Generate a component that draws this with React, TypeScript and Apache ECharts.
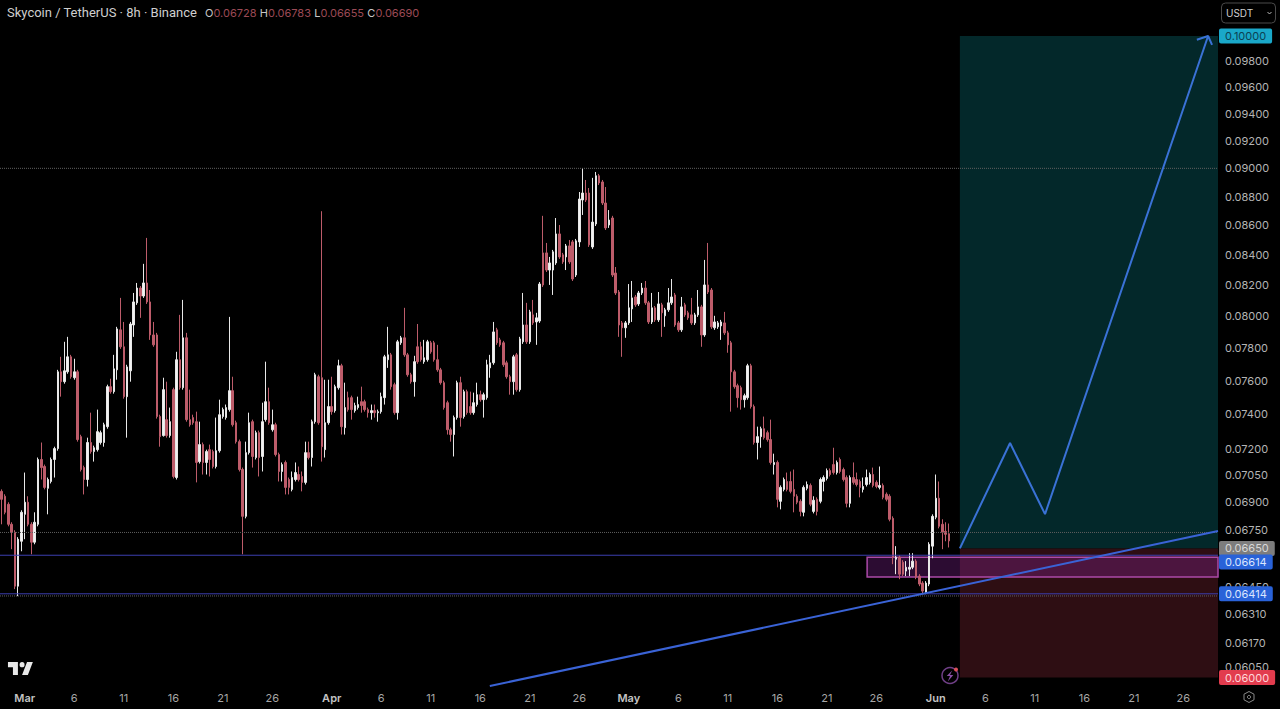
import React, { useEffect, useRef } from "react";
import * as echarts from "echarts";

// Candles, in units of 0.00001 USDT: [open, close, low, high]
const candles: number[][] = [
  [6959,6915,6779,6970],[6932,6844,6833,6943],[6888,6779,6768,6899],[6779,6736,6646,6790],[6736,6453,6438,6747],[6453,6699,6402,6710],[6688,6844,6635,6855],[6833,6899,6699,7064],[6899,6779,6768,6932],[6779,6683,6619,6790],
  [6683,6790,6672,6844],[6779,7138,6768,7149],[7138,7092,7025,7235],[7098,6981,6970,7109],[6976,7025,6833,7036],[7014,7138,7003,7149],[7138,7200,7036,7211],[7200,7654,7188,7666],[7654,7594,7504,7746],[7594,7660,7582,7839],
  [7654,7746,7642,7870],[7746,7624,7612,7758],[7618,7654,7606,7734],[7654,7252,7240,7666],[7269,7081,7070,7280],[7092,7025,6942,7103],[7025,7235,6986,7263],[7235,7183,7171,7409],[7183,7205,7126,7217],[7194,7298,7183,7427],
  [7235,7292,7223,7304],[7235,7338,7211,7350],[7327,7564,7315,7576],[7564,7534,7522,7612],[7534,7672,7522,7758],[7666,7920,7606,7933],[7914,7808,7795,8118],[7808,7504,7492,7964],[7504,7684,7263,7697],[7660,7951,7594,7964],
  [7945,8092,7870,8150],[8086,8182,8073,8215],[8182,8130,7990,8195],[8130,8215,8118,8341],[8215,8092,8079,8515],[8092,7882,7851,8169],[7882,7820,7808,7964],[7882,7386,7374,7895],[7386,7269,7211,7397],[7275,7546,7269,7618],
  [7368,7275,7263,7594],[7275,7356,7263,7439],[7546,7042,7031,7558],[7036,7728,7025,7777],[7728,7558,7546,8009],[7558,7864,7546,8105],[7864,7368,7356,7895],[7368,7338,7327,7546],[7380,7350,7338,7397],[7356,7121,7009,7415],
  [7126,7223,7115,7356],[7223,7121,7053,7235],[7121,7183,7053,7194],[7194,7138,7042,7223],[7183,7098,7087,7194],[7098,7188,7087,7380],[7188,7397,7177,7486],[7386,7427,7374,7439],[7380,7439,7368,7457],[7427,7540,7415,7996],
  [7540,7338,7327,7624],[7350,7240,7229,7362],[7240,7081,7070,7252],[7081,6822,6619,7092],[6822,7177,6811,7240],[7177,7350,7166,7409],[7356,7155,7092,7368],[7149,7292,7138,7304],[7292,7149,7042,7304],[7155,7356,7070,7468],
  [7368,7474,7356,7716],[7474,7350,7338,7558],[7309,7338,7298,7427],[7338,7166,7155,7350],[7166,7070,7014,7177],[7070,7109,7014,7121],[7121,6981,6942,7132],[7025,6981,6942,7036],[6970,7036,6959,7070],[7025,7064,7014,7121],
  [7053,7025,7014,7098],[7042,7009,6959,7070],[7009,7177,6997,7240],[7177,7149,7138,7240],[7149,7356,7098,7368],[7356,7636,7344,7648],[7624,7350,7338,7636],[7618,7211,7126,8698],[7194,7350,7149,7606],[7350,7445,7338,7606],
  [7445,7415,7397,7624],[7421,7564,7409,7576],[7558,7691,7546,7728],[7691,7327,7281,7703],[7321,7439,7281,7588],[7498,7427,7415,7534],[7498,7427,7368,7510],[7421,7451,7409,7468],[7439,7457,7427,7504],[7474,7451,7409,7564],
  [7474,7427,7415,7486],[7427,7409,7380,7439],[7409,7421,7368,7457],[7421,7409,7380,7457],[7409,7415,7356,7427],[7415,7504,7403,7528],[7498,7746,7457,7758],[7728,7758,7678,7933],[7758,7564,7546,7770],[7576,7409,7397,7588],
  [7409,7839,7368,7851],[7833,7864,7820,7876],[7864,7758,7746,8054],[7758,7636,7624,7770],[7636,7594,7582,7648],[7594,7716,7504,7752],[7808,7716,7703,7951],[7808,7728,7716,7839],[7716,7740,7703,7851],[7728,7839,7716,7851],
  [7833,7777,7765,7845],[7833,7728,7716,7845],[7728,7666,7654,7820],[7666,7588,7576,7678],[7588,7439,7427,7600],[7468,7309,7281,7480],[7309,7281,7240,7321],[7281,7380,7155,7392],[7380,7588,7368,7600],[7588,7380,7327,7624],
  [7386,7534,7374,7546],[7534,7409,7397,7546],[7445,7409,7397,7534],[7409,7468,7397,7528],[7457,7516,7445,7588],[7516,7486,7474,7540],[7486,7516,7380,7528],[7498,7697,7486,7728],[7678,7709,7618,7758],[7709,7901,7697,7964],
  [7914,7833,7820,7927],[7851,7820,7808,7864],[7833,7697,7684,7845],[7709,7624,7612,7722],[7624,7594,7516,7636],[7594,7746,7516,7758],[7758,7546,7534,7770],[7546,7857,7534,7870],[7839,7945,7826,8150],[7945,7839,7826,8086],
  [7839,8028,7826,8041],[8009,7958,7945,8105],[7964,7990,7820,8022],[7970,8208,7958,8221],[8414,8202,8189,8666],[8414,8300,8287,8481],[8300,8347,8202,8387],[8300,8421,8137,8434],[8347,8542,8334,8651],[8542,8387,8374,8603],
  [8401,8354,8341,8414],[8387,8461,8300,8474],[8461,8354,8341,8501],[8488,8241,8228,8501],[8267,8495,8254,8508],[8488,8783,8454,8832],[8776,8825,8672,9002],[8825,8776,8762,8917],[8825,8468,8454,8860],[8454,8623,8441,8932],
  [8610,8947,8596,8974],[8947,8896,8881,8960],[8903,8755,8741,8917],[8755,8583,8569,8867],[8603,8637,8583,8706],[8651,8267,8254,8666],[8280,8150,8137,8320],[8156,7945,7870,8169],[7958,7927,7746,7970],[7927,7958,7864,7970],
  [7958,8054,7945,8208],[8047,8118,7964,8228],[8124,8073,8060,8137],[8079,8150,8066,8163],[8150,8182,8137,8215],[8182,8086,8073,8228],[8086,7964,7951,8098],[7964,8054,7951,8150],[8054,7977,7964,8066],[7977,8079,7964,8156],
  [8073,8022,7870,8086],[8003,8041,7933,8054],[8041,8086,8028,8182],[8086,8124,8073,8241],[8137,7945,7933,8150],[7958,7914,7901,7970],[7914,8060,7901,8124],[8073,8009,7996,8086],[8022,7990,7977,8035],[8009,7958,7945,8118],
  [7958,8009,7945,8022],[8009,8060,7996,8169],[8060,7882,7808,8073],[7882,8202,7870,8367],[8202,8156,8143,8481],[8169,7933,7920,8182],[7927,7964,7914,8003],[7933,7958,7920,7970],[7939,7964,7851,7977],[7958,7895,7882,8028],
  [7895,7820,7771,7908],[7833,7654,7415,7845],[7654,7564,7552,7666],[7570,7498,7439,7582],[7558,7486,7427,7570],[7486,7510,7439,7522],[7498,7691,7486,7703],[7691,7445,7433,7703],[7445,7235,7223,7457],[7235,7269,7138,7327],
  [7269,7315,7205,7327],[7315,7263,7252,7386],[7292,7252,7240,7304],[7252,7121,7109,7368],[7109,7121,7053,7171],[7121,6915,6871,7132],[6904,6981,6860,6992],[6970,7025,6959,7036],[7014,6970,6959,7064],[7014,6959,6948,7070],
  [6970,6932,6844,7081],[6932,6899,6888,6943],[6904,6849,6822,6915],[6844,6981,6822,6992],[6976,6997,6965,7014],[6992,6888,6877,7003],[6849,6910,6838,6932],[6915,6849,6827,6926],[6904,7025,6893,7036],[7014,7036,6959,7048],
  [7031,7075,7020,7087],[7075,7053,7042,7087],[7109,7064,7053,7205],[7064,7121,7053,7132],[7138,7070,7059,7149],[7081,7025,7014,7092],[7036,6893,6871,7048],[6893,7036,6871,7048],[7036,7009,6997,7121],[7025,6997,6986,7064],
  [7014,6981,6926,7025],[6970,6986,6953,7036],[6997,7036,6986,7081],[7009,7053,6997,7064],[7053,6992,6981,7092],[7009,6986,6976,7020],[6981,6992,6970,7098],[6992,6926,6915,7003],[6943,6915,6904,6953],[6932,6806,6795,6943],
  [6811,6604,6567,6822],[6593,6604,6515,6662],[6604,6515,6489,6614],[6577,6515,6505,6588],[6531,6551,6505,6583],[6541,6551,6505,6625],[6551,6583,6541,6625],[6583,6500,6489,6593],[6505,6464,6453,6515],[6469,6428,6417,6479],
  [6423,6469,6412,6479],[6464,6672,6453,6683],[6662,6822,6598,6833],[6817,6921,6806,7053],[6921,6768,6757,7014],[6779,6736,6646,6806],[6741,6725,6688,6790],[6728,6690,6655,6783],
];
const PRICE_UNIT = 0.00001;

// 369 category slots of 8h each; ticks: [slot day offset from 1 Mar, label]
const slotCount = 369;
const firstMarchSlot = 7;
const tickDays = [0, 5, 10, 15, 20, 25, 31, 36, 41, 46, 51, 56, 61, 66, 71, 76, 81, 86, 92, 97, 102, 107, 112, 117];
const tickNames = ["Mar", "6", "11", "16", "21", "26", "Apr", "6", "11", "16", "21", "26", "May", "6", "11", "16", "21", "26", "Jun", "6", "11", "16", "21", "26"];

// Price axis
const plainTicks = [0.098, 0.096, 0.094, 0.092, 0.09, 0.088, 0.086, 0.084, 0.082, 0.08, 0.078, 0.076, 0.074, 0.072, 0.0705, 0.069, 0.0675, 0.0645, 0.0631, 0.0617, 0.0605];
// [where the badge sits, what it says, rich style]; TradingView nudges 0.06614 down off the 0.06650 badge
const badgeTicks: [number, string, string][] = [
  [0.1, "0.10000", "cyan"],
  [0.0665, "0.06650", "gray"],
  [0.06578, "0.06614", "blue"],
  [0.06414, "0.06414", "blue"],
  [0.06, "0.06000", "red"],
];

// Drawings: x is in candle slots (0..369), y is price
const levelLines = [0.06614, 0.06414];
const dottedLines = [0.09, 0.06735, 0.06403];
const trendLine = [[148.4, 0.0596], [369, 0.06743]];
const pathArrow = [[290.8, 0.0665], [306, 0.07232], [316.6, 0.06834], [366, 0.1]];
const arrowHead = [[362.6, 0.0997], [366, 0.1], [367.2, 0.0993]];
const targetBox = [290.8, 0.0665, 369, 0.1];
const stopBox = [290.8, 0.06, 369, 0.0665];
const zoneBox = [262.7, 0.06603, 369, 0.065];

const ohlcLegend = [["O", "0.06728"], ["H", "0.06783"], ["L", "0.06655"], ["C", "0.06690"]];

const FONT = "Inter, Roboto, 'Noto Sans', sans-serif";
const LOGO = "M14 6H2v6h6v9h6V6Zm12 15h-7l6-15h7l-6 15Zm-7-9a3 3 0 1 0 0-6 3 3 0 0 0 0 6Z";
echarts.graphic.registerShape("tvlogo", echarts.graphic.extendPath(LOGO, {}) as any);
const BOLT = "M2 0L-3 5H0L-2 10L3 4H0L2 0Z";
echarts.graphic.registerShape("bolt", echarts.graphic.extendPath(BOLT, {}) as any);

function boxSeries(box: number[], fill: string, z: number, stroke?: string): any {
  return {
    type: "custom",
    xAxisIndex: 1,
    yAxisIndex: 0,
    silent: true,
    z,
    clip: false,
    encode: { x: [0, 2], y: [1, 3] },
    data: [box],
    renderItem: (_: any, api: any) => {
      const a = api.coord([api.value(0), api.value(1)]);
      const b = api.coord([api.value(2), api.value(3)]);
      return {
        type: "rect",
        shape: { x: a[0], y: Math.min(a[1], b[1]), width: b[0] - a[0], height: Math.abs(a[1] - b[1]) },
        style: { fill, stroke: stroke || "none", lineWidth: stroke ? 1.5 : 0 },
      };
    },
  };
}

function lineSeries(points: number[][], color: string, width: number, type: string, z: number): any {
  return {
    type: "line",
    xAxisIndex: 1,
    yAxisIndex: 0,
    data: points,
    showSymbol: false,
    symbol: "none",
    silent: true,
    clip: false,
    z,
    lineStyle: { color, width, type },
  };
}

export default function App() {
  const ref = useRef<HTMLDivElement>(null);
  useEffect(() => {
    document.body.style.margin = "0";
    document.body.style.background = "#000";
    document.body.style.overflow = "hidden";
    const chart = echarts.init(ref.current!, undefined, { renderer: "svg" });

    const tickSlots = tickDays.map((d) => firstMarchSlot + d * 3);
    const categories = Array.from({ length: slotCount }, (_, i) => {
      const k = tickSlots.indexOf(i);
      return k >= 0 ? tickNames[k] : `s${i}`;
    });
    const badgeStyle = (backgroundColor: string, color: string) => ({
      backgroundColor,
      color,
      padding: [2, 6, 2, 6],
      borderRadius: 2,
      fontSize: 11,
      fontFamily: FONT,
    });

    chart.setOption({
      animation: false,
      backgroundColor: "#000000",
      grid: { left: 0, right: 62, top: 28, bottom: 22, containLabel: false },
      xAxis: [
        {
          type: "category",
          data: categories,
          boundaryGap: true,
          axisLine: { show: false },
          axisTick: { show: false },
          splitLine: { show: false },
          axisLabel: {
            margin: 5,
            interval: (i: number) => tickSlots.includes(i),
            formatter: (v: string) => (/^[A-Z]/.test(v) ? `{m|${v}}` : `{d|${v}}`),
            rich: {
              m: { color: "#c4c4c4", fontSize: 11, fontWeight: 600, fontFamily: FONT },
              d: { color: "#a6a6a6", fontSize: 11, fontFamily: FONT },
            },
          },
        },
        { type: "value", min: 0, max: slotCount, show: false },
      ],
      yAxis: {
        type: "log",
        position: "right",
        min: 0.059553,
        max: 0.100639,
        splitLine: { show: false },
        axisLine: { show: false },
        axisTick: { show: false },
        axisLabel: {
          margin: 1,
          customValues: [...plainTicks, ...badgeTicks.map((b) => b[0])],
          formatter: (v: number) => {
            const b = badgeTicks.find((t) => Math.abs(t[0] - v) < 1e-7);
            return b ? `{${b[2]}|${b[1]}}` : `{p|${v.toFixed(5)}}`;
          },
          rich: {
            p: { color: "#b4b4b4", fontSize: 11, fontFamily: FONT, padding: [0, 6, 0, 6] },
            cyan: badgeStyle("#1aa8c9", "#0c4152"),
            gray: badgeStyle("#7d7d7d", "#d8d8d8"),
            blue: badgeStyle("#2962d8", "#dbe6ff"),
            red: badgeStyle("#e23c4e", "#ffd6da"),
          },
        },
      },
      series: [
        boxSeries(targetBox, "#03282a", 1),
        boxSeries(stopBox, "#2e0e13", 1),
        boxSeries(zoneBox, "rgba(145,40,165,0.3)", 2, "#ac4aa8"),
        {
          type: "candlestick",
          xAxisIndex: 0,
          yAxisIndex: 0,
          barWidth: 2,
          z: 3,
          silent: true,
          clip: false,
          itemStyle: {
            color: "#f2f2f2",
            color0: "#bd5c6a",
            borderColor: "#e8e8e8",
            borderColor0: "#bd5c6a",
            borderWidth: 1,
          },
          data: candles.map((c) => c.map((v) => v * PRICE_UNIT)),
        },
        ...dottedLines.map((v) => lineSeries([[0, v], [slotCount, v]], "#5f5f5f", 1, "dotted", 4)),
        ...levelLines.map((v) => lineSeries([[0, v], [slotCount, v]], "#3c3fb0", 1, "solid", 4)),
        lineSeries(trendLine, "#3a63d6", 2, "solid", 5),
        lineSeries(pathArrow, "#3a72d6", 2, "solid", 5),
        lineSeries(arrowHead, "#3a72d6", 2, "solid", 5),
      ],
      graphic: [
        {
          type: "text",
          x: 7,
          y: 6,
          silent: true,
          style: { text: "Skycoin / TetherUS · 8h · Binance", fill: "#cfcfcf", fontSize: 13, fontFamily: "Roboto, Inter, sans-serif" },
        },
        {
          type: "text",
          x: 205,
          y: 7,
          silent: true,
          style: {
            text: ohlcLegend.map(([k, v]) => `{k|${k}}{v|${v}}`).join(" "),
            rich: {
              k: { fill: "#c8c8c8", fontSize: 11, fontFamily: FONT },
              v: { fill: "#9c4a55", fontSize: 11, fontFamily: FONT },
            },
          },
        },
        {
          type: "rect",
          silent: true,
          shape: { x: 1221.5, y: 3, width: 54, height: 20, r: 4 },
          style: { fill: "#000", stroke: "#4a4a4a", lineWidth: 1 },
        },
        {
          type: "text",
          x: 1226,
          y: 8,
          silent: true,
          style: { text: "USDT", fill: "#cfcfcf", fontSize: 10, fontFamily: FONT },
        },
        {
          type: "polyline",
          silent: true,
          shape: { points: [[1267.5, 12], [1269.5, 14], [1271.5, 12]] },
          style: { stroke: "#b8b8b8", lineWidth: 1, fill: "none" },
        },
        {
          type: "tvlogo",
          x: 6.3,
          y: 656.8,
          scaleX: 0.83,
          scaleY: 0.87,
          silent: true,
          style: { fill: "#e8e8e8" },
        },
        {
          type: "circle",
          silent: true,
          shape: { cx: 950, cy: 675.5, r: 8 },
          style: { fill: "#000", stroke: "#6f3f86", lineWidth: 1.5 },
        },
        { type: "bolt", x: 950, y: 670.5, scaleX: 1.1, scaleY: 1.1, silent: true, style: { fill: "#8a4fa6" } },
        {
          type: "circle",
          silent: true,
          shape: { cx: 956, cy: 669.5, r: 2 },
          style: { fill: "#d9505a" },
        },
        {
          type: "polygon",
          silent: true,
          shape: { points: [[1249, 691.5], [1254, 694.2], [1254, 699.8], [1249, 702.5], [1244, 699.8], [1244, 694.2]] },
          style: { fill: "none", stroke: "#8a8a8a", lineWidth: 1 },
        },
        {
          type: "circle",
          silent: true,
          shape: { cx: 1249, cy: 697, r: 1.6 },
          style: { fill: "none", stroke: "#8a8a8a", lineWidth: 1 },
        },
      ],
    });
    return () => chart.dispose();
  }, []);
  return <div ref={ref} style={{ width: 1280, height: 709 }} />;
}
